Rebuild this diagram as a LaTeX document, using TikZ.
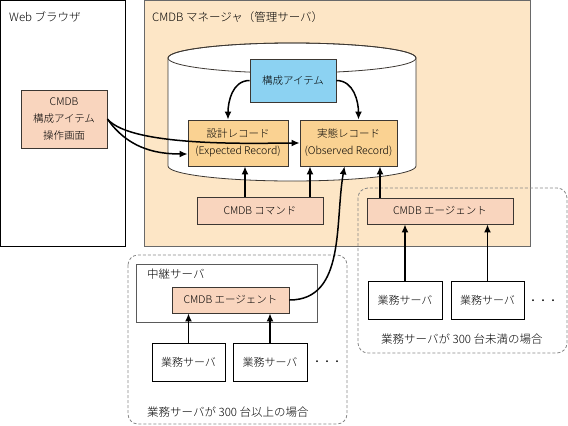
\documentclass[tikz,border=0pt]{standalone}
\usepackage{fontspec}
\setmainfont{Noto Sans CJK JP}[UprightFont={* Light}]
\usetikzlibrary{calc,arrows.meta}

\definecolor{mgrfill}{RGB}{253,230,198}
\definecolor{mgrline}{RGB}{105,105,105}
\definecolor{peachfill}{RGB}{249,213,190}
\definecolor{recfill}{RGB}{250,210,146}
\definecolor{cfgfill}{RGB}{140,210,242}
\definecolor{boxline}{RGB}{60,55,50}
\definecolor{groupline}{RGB}{135,135,135}
\definecolor{relayline}{RGB}{90,90,90}

\tikzset{
	box/.style={draw=boxline, line width=0.8pt, inner sep=0pt, align=center, font=\fontsize{10.5}{17}\selectfont},
	peach/.style={box, fill=peachfill},
	rec/.style={box, fill=recfill},
	srv/.style={draw=black, line width=0.8pt, fill=white, inner sep=0pt, font=\fontsize{11}{13}\selectfont},
	flow/.style={-{Latex[length=8pt,width=7pt]}, line width=1.5pt},
	group/.style={draw=groupline, line width=0.8pt, dash pattern=on 3pt off 2pt, rounded corners=10pt},
	caption/.style={anchor=west, inner sep=0pt, font=\fontsize{11.5}{13}\selectfont}
}

\begin{document}
\begin{tikzpicture}[x=1pt, y=1pt]
	\useasboundingbox (0,0) rectangle (568,-426);

	%frames
	\draw[line width=1pt] (0.5,-0.5) rectangle (125,-246);								%browser
	\draw[draw=mgrline, fill=mgrfill, line width=1pt] (144.5,-0.5) rectangle (530,-246);	%manager
	\node[caption] (webttl) at (9,-17)   {Web ブラウザ};
	\node[caption] (mgrttl) at (152,-17) {CMDB マネージャ（管理サーバ）};

	%database
	\filldraw[draw=boxline, fill=white, line width=0.8pt] (168,-58) -- (168,-166)
		arc[start angle=180, end angle=360, x radius=124, y radius=15] -- (416,-58)
		arc[start angle=0, end angle=180, x radius=124, y radius=15] -- cycle;
	\draw[draw=boxline, line width=0.8pt] (292,-58) ellipse[x radius=124, y radius=15];

	%groups
	\draw[group] (358,-188) rectangle (567,-353);
	\draw[group] (128,-255) rectangle (347,-424);
	\draw[draw=relayline, line width=1pt] (136,-264) rectangle (317,-322);
	\node[caption] (relayttl) at (147,-274) {中継サーバ};
	\node[caption] (fewttl)   at (381,-339) {業務サーバが 300 台未満の場合};
	\node[caption] (manyttl)  at (147,-412) {業務サーバが 300 台以上の場合};

	%boxes
	\node[peach, minimum width=86, minimum height=58] (ui) at (64,-119) {CMDB\\構成アイテム\\操作画面};
	\node[box, fill=cfgfill, minimum width=86, minimum height=43] (cfg) at (293,-80.5) {構成アイテム};
	\node[rec, minimum width=100, minimum height=46] (exp) at (238,-143)   {設計レコード\\(Expected Record)};
	\node[rec, minimum width=97, minimum height=46]  (obs) at (348.5,-143) {実態レコード\\(Observed Record)};
	\node[peach, minimum width=126, minimum height=27] (cmd)    at (260,-210.5) {CMDB コマンド};
	\node[peach, minimum width=146, minimum height=26] (agentR) at (440,-211)   {CMDB エージェント};
	\node[peach, minimum width=117, minimum height=26] (agentL) at (230.5,-300) {CMDB エージェント};

	%servers
	\node[srv, minimum width=74, minimum height=38] (srvR1) at (405,-300)   {業務サーバ};
	\node[srv, minimum width=73, minimum height=38] (srvR2) at (487.5,-300) {業務サーバ};
	\node[srv, minimum width=73, minimum height=38] (srvL1) at (188.5,-362) {業務サーバ};
	\node[srv, minimum width=74, minimum height=38] (srvL2) at (270,-362)   {業務サーバ};
	\node[font=\fontsize{10}{12}\selectfont, inner sep=0pt] (dotsR) at (543,-302) {・・・};
	\node[font=\fontsize{10}{12}\selectfont, inner sep=0pt] (dotsL) at (327,-363) {・・・};

	%arrows
	\draw[flow] (cfg.west) to[out=180, in=90] ([xshift=-10pt]exp.north);
	\draw[flow] (cfg.east) to[out=0, in=90] ([xshift=10pt]obs.north);
	\draw[flow] (ui.east) to[out=-50, in=180, looseness=0.5] (obs.west);
	\draw[flow] (ui.east) to[out=-55, in=180] ($(exp.west)+(0,-11)$);
	\draw[flow] ([xshift=-15pt]cmd.north) -- ([xshift=-15pt]cmd.north |- exp.south);
	\draw[flow] ([xshift=50pt]cmd.north) -- ([xshift=50pt]cmd.north |- obs.south);
	\draw[flow] ([xshift=-60pt]agentR.north) -- ([xshift=-60pt]agentR.north |- obs.south);
	\draw[flow] (agentL.east) to[out=0, in=-100] ([xshift=-4pt]obs.south);
	\draw[flow] (srvR1.north) -- (srvR1.north |- agentR.south);
	\draw[flow] (srvR2.north) -- (srvR2.north |- agentR.south);
	\draw[flow] (srvL1.north) -- (srvL1.north |- agentL.south);
	\draw[flow] (srvL2.north) -- (srvL2.north |- agentL.south);
\end{tikzpicture}
\end{document}
